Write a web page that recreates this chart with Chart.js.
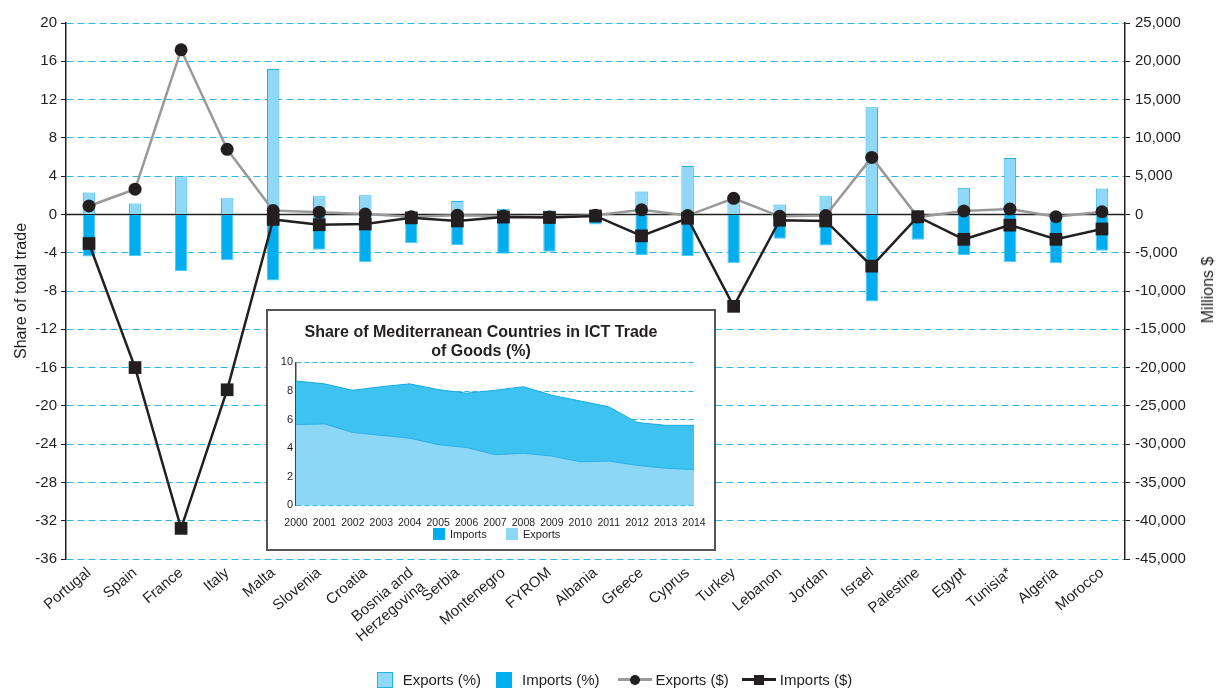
<!DOCTYPE html>
<html>
<head>
<meta charset="utf-8">
<script src="https://cdn.jsdelivr.net/npm/chart.js@4.4.1/dist/chart.umd.min.js"></script>
<style>
    body { margin: 0; background: #fff; font-family: 'Liberation Sans', Arial, sans-serif; color: #231f20; }
    #wrap { position: relative; width: 1217px; height: 688px; overflow: hidden; }
    #main-chart { position: absolute; left: 0; top: 0; }
    #inset { position: absolute; left: 266px; top: 309px; width: 446px; height: 238px; border: 2px solid #555; background: #fff; }
    #inset-legend { position: absolute; left: 0; top: 216px; width: 446px; font-size: 11px; }
    #inset-legend .b { position: absolute; top: 1px; width: 12px; height: 12px; }
    #inset-legend .t { position: absolute; top: 0; line-height: 14px; }
    #right-title { position: absolute; left: 1208px; top: 290px; transform: translate(-50%, -50%) rotate(-90deg); font-size: 16px; white-space: nowrap; }
    #legend { position: absolute; left: 0; width: 1217px; top: 671px; padding-left: 12px; box-sizing: border-box; display: flex; justify-content: center; align-items: center; font-size: 15px; }
    .item { display: flex; align-items: center; }
    .box { width: 16px; height: 16px; box-sizing: border-box; margin-right: 10px; }
    .mark { position: relative; width: 34px; height: 16px; margin-right: 4px; }
    .mark .ln { position: absolute; left: 0; right: 0; top: 6.5px; height: 3px; }
    .mark .dot { position: absolute; left: 12px; top: 3px; width: 10px; height: 10px; border-radius: 50%; background: #231f20; }
    .mark .sq { position: absolute; left: 12px; top: 3px; width: 10px; height: 10px; background: #231f20; }
</style>
</head>
<body>
<div id="wrap">
    <canvas id="main-chart"></canvas>
    <div id="inset">
        <canvas id="inset-chart"></canvas>
        <div id="inset-legend">
            <div class="b" style="left:165px;background:#00aeef"></div><div class="t" style="left:182px">Imports</div>
            <div class="b" style="left:238px;background:#8cd6f6"></div><div class="t" style="left:255px">Exports</div>
        </div>
    </div>
    <div id="right-title">Millions $</div>
    <div id="legend">
        <div class="item"><div class="box" style="background:#8fd8f7;border:1px solid #1fb3ea"></div>Exports (%)</div>
        <div class="item" style="margin-left:15px"><div class="box" style="background:#00aeef"></div>Imports (%)</div>
        <div class="item" style="margin-left:18px"><div class="mark"><div class="ln" style="background:#999"></div><div class="dot"></div></div>Exports ($)</div>
        <div class="item" style="margin-left:13px"><div class="mark"><div class="ln" style="background:#231f20"></div><div class="sq"></div></div>Imports ($)</div>
    </div>
</div>
<script>
// Main chart data
const countries = ['Portugal', 'Spain', 'France', 'Italy', 'Malta', 'Slovenia', 'Croatia',
    ['Bosnia and', 'Herzegovina'], 'Serbia', 'Montenegro', 'FYROM', 'Albania', 'Greece', 'Cyprus',
    'Turkey', 'Lebanon', 'Jordan', 'Israel', 'Palestine', 'Egypt', 'Tunisia*', 'Algeria', 'Morocco'];

const exportsShare = [2.3, 1.15, 4.0, 1.7, 15.2, 1.9, 2.0, 0.25, 1.4, 0.6, 0.4, 0.1,
    2.4, 5.05, 1.35, 1.05, 1.9, 11.2, 0.4, 2.8, 5.9, 0.1, 2.7];
const importsShare = [-4.4, -4.35, -5.9, -4.8, -6.9, -3.7, -5.0, -3.0, -3.2, -4.1, -3.9, -1.05,
    -4.25, -4.35, -5.1, -2.55, -3.25, -9.1, -2.65, -4.25, -5.0, -5.1, -3.8];

const exportsUsd = [1100, 3300, 21500, 8500, 500, 300, 50, -300, -100, -200, -350, -100,
    600, -150, 2100, -250, -150, 7450, -350, 450, 700, -300, 350];
const importsUsd = [-3800, -20000, -41000, -22900, -650, -1350, -1250, -450, -850, -350, -400, -200,
    -2800, -500, -12000, -750, -850, -6750, -300, -3250, -1400, -3250, -1900];

// Inset data
const years = ['2000', '2001', '2002', '2003', '2004', '2005', '2006', '2007', '2008', '2009',
    '2010', '2011', '2012', '2013', '2014'];
const insetImports = [8.7, 8.5, 8.05, 8.3, 8.5, 8.1, 7.85, 8.05, 8.3, 7.7, 7.3, 6.9, 5.8, 5.6, 5.6];
const insetExports = [5.65, 5.7, 5.1, 4.9, 4.7, 4.25, 4.05, 3.55, 3.65, 3.45, 3.05, 3.1, 2.8, 2.6, 2.5];

const INK = '#231f20';
const GRID_BLUE = '#2bb5e8';
const FONT = "'Liberation Sans', Arial, sans-serif";

Chart.defaults.font.family = FONT;
Chart.defaults.color = INK;

// Solid black line at zero
const zeroLine = {
    id: 'zeroLine',
    beforeDatasetsDraw(chart) {
        const { ctx, chartArea, scales } = chart;
        const y = scales.y.getPixelForValue(0);
        ctx.save();
        ctx.strokeStyle = INK;
        ctx.lineWidth = 1.5;
        ctx.beginPath();
        ctx.moveTo(chartArea.left, y);
        ctx.lineTo(chartArea.right, y);
        ctx.stroke();
        ctx.restore();
    }
};

const mainCanvas = document.getElementById('main-chart');
mainCanvas.width = 1217;
mainCanvas.height = 688;

new Chart(mainCanvas, {
    type: 'bar',
    data: {
        labels: countries,
        datasets: [
            {
                type: 'line',
                label: 'Imports ($)',
                data: importsUsd,
                yAxisID: 'y1',
                borderColor: INK,
                borderWidth: 2.5,
                pointStyle: 'rect',
                pointRadius: 9,
                pointBackgroundColor: INK,
                pointBorderWidth: 0,
                tension: 0,
                order: 0
            },
            {
                type: 'line',
                label: 'Exports ($)',
                data: exportsUsd,
                yAxisID: 'y1',
                borderColor: '#999999',
                borderWidth: 2.5,
                pointStyle: 'circle',
                pointRadius: 6.5,
                pointBackgroundColor: INK,
                pointBorderWidth: 0,
                tension: 0,
                order: 1
            },
            {
                label: 'Exports (%)',
                data: exportsShare,
                yAxisID: 'y',
                backgroundColor: '#8fd8f7',
                borderColor: '#1fb3ea',
                borderWidth: 1,
                categoryPercentage: 1,
                barPercentage: 0.27,
                order: 2
            },
            {
                label: 'Imports (%)',
                data: importsShare,
                yAxisID: 'y',
                backgroundColor: '#00aeef',
                borderColor: '#4fc8f3',
                borderWidth: 1,
                categoryPercentage: 1,
                barPercentage: 0.27,
                order: 3
            }
        ]
    },
    options: {
        responsive: false,
        animation: false,
        layout: { padding: { top: 23, left: 0, right: 0, bottom: 0 } },
        plugins: {
            legend: { display: false },
            tooltip: { enabled: false }
        },
        scales: {
            x: {
                stacked: true,
                grid: { display: false },
                border: { display: false },
                ticks: {
                    autoSkip: false,
                    minRotation: 40,
                    maxRotation: 40,
                    padding: -3,
                    font: { size: 15 },
                    color: INK
                },
                afterFit(scale) { scale.height = 129; }
            },
            y: {
                stacked: true,
                position: 'left',
                min: -36,
                max: 20,
                ticks: { stepSize: 4, font: { size: 15 }, color: INK, padding: 4 },
                grid: {
                    color: ctx => (ctx.tick && ctx.tick.value === 0) ? 'rgba(0,0,0,0)' : GRID_BLUE,
                    lineWidth: 1,
                    tickColor: INK,
                    tickLength: 5
                },
                border: { display: true, color: INK, width: 1.5, dash: [7, 4] },
                title: {
                    display: true,
                    text: 'Share of total trade',
                    font: { size: 16 },
                    color: INK,
                    padding: { top: 12 }
                },
                afterFit(scale) { scale.width = 66; }
            },
            y1: {
                position: 'right',
                min: -45000,
                max: 25000,
                ticks: {
                    stepSize: 5000,
                    font: { size: 15 },
                    color: INK,
                    padding: 5,
                    callback: v => v.toLocaleString('en-US')
                },
                grid: { drawOnChartArea: false, tickColor: INK, tickLength: 5 },
                border: { display: true, color: INK, width: 1.5 },
                afterFit(scale) { scale.width = 92; }
            }
        }
    },
    plugins: [zeroLine]
});

// Inset chart
const insetCanvas = document.getElementById('inset-chart');
insetCanvas.width = 446;
insetCanvas.height = 238;

new Chart(insetCanvas, {
    type: 'line',
    data: {
        labels: years,
        datasets: [
            {
                label: 'Imports',
                data: insetImports,
                fill: 'origin',
                backgroundColor: '#3ec3f0',
                borderColor: '#1ba9e3',
                borderWidth: 1,
                pointRadius: 0,
                tension: 0,
                order: 2
            },
            {
                label: 'Exports',
                data: insetExports,
                fill: 'origin',
                backgroundColor: '#8cd6f6',
                borderColor: '#2cb0e6',
                borderWidth: 1,
                pointRadius: 0,
                tension: 0,
                order: 1
            }
        ]
    },
    options: {
        responsive: false,
        animation: false,
        layout: { padding: { top: 0, left: 0, right: 20, bottom: 17 } },
        plugins: {
            title: {
                display: true,
                text: ['Share of Mediterranean Countries in ICT Trade', 'of Goods (%)'],
                font: { size: 16, weight: 'bold' },
                color: INK,
                padding: { top: 12, bottom: 1 },
                lineHeight: 1.28
            },
            legend: { display: false },
            tooltip: { enabled: false }
        },
        scales: {
            x: {
                offset: false,
                grid: { display: false },
                border: { display: false },
                ticks: { font: { size: 10.5 }, color: INK, maxRotation: 0, autoSkip: false, padding: 3 }
            },
            y: {
                min: 0,
                max: 10,
                z: 1,
                ticks: { stepSize: 2, font: { size: 11 }, color: INK, padding: 3 },
                grid: { color: GRID_BLUE, lineWidth: 1, drawTicks: false },
                border: { display: true, color: '#444', width: 1.5, dash: [5, 3] },
                afterFit(scale) { scale.width = 28; }
            }
        }
    }
});
</script>
</body>
</html>
